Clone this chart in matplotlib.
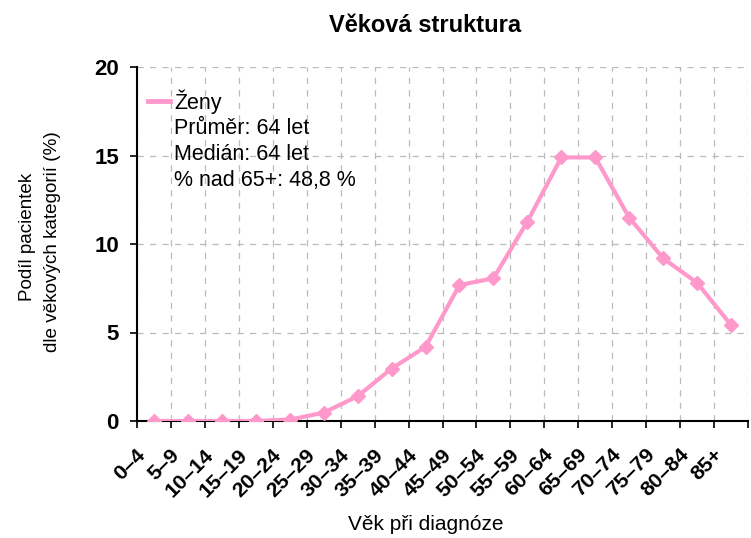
import matplotlib
matplotlib.use("Agg")
import matplotlib.pyplot as plt
from matplotlib.lines import Line2D
from matplotlib.transforms import ScaledTranslation
import numpy as np

plt.rcParams['font.family'] = ['Liberation Sans', 'DejaVu Sans']

categories = ["0–4", "5–9", "10–14", "15–19", "20–24", "25–29", "30–34", "35–39",
              "40–44", "45–49", "50–54", "55–59", "60–64", "65–69", "70–74",
              "75–79", "80–84", "85+"]
values = [0, 0, 0, 0, 0.08, 0.47, 1.4, 2.96, 4.19, 7.68, 8.06, 11.26, 14.89, 14.89,
          11.49, 9.19, 7.81, 5.42]
yticks = [0, 5, 10, 15, 20]
legend_lines = ["Ženy", "Průměr: 64 let", "Medián: 64 let", "% nad 65+: 48,8 %"]

pink = "#FF99CC"

fig = plt.figure(figsize=(7.51, 5.38), dpi=100)
ax = fig.add_axes([137/751, 1-421/538, (748-137)/751, (421-67)/538])

x = np.arange(len(categories))
ax.plot(x, values, color=pink, lw=3, marker="D", ms=7, mec=pink, mfc=pink, zorder=3)

ax.set_xlim(-0.5, len(categories) - 0.5)
ax.set_ylim(0, 20)
ax.set_yticks(yticks)
ax.set_yticklabels([str(v) for v in yticks], fontweight="bold", fontsize=16)

# category ticks between categories
bounds = np.arange(len(categories) + 1) - 0.5
ax.set_xticks(bounds)
ax.set_xticklabels([])
ax.tick_params(axis="x", which="major", length=5, width=1.2, direction="out")
ax.tick_params(axis="y", length=5, width=1.2, direction="out", pad=8)

# rotated category labels
off = ScaledTranslation(-18/100, -24/100, fig.dpi_scale_trans)
tr = ax.get_xaxis_transform() + off
for xi, cat in zip(x, categories):
    ax.text(xi, 0, cat, transform=tr, rotation=45, ha="right", va="top",
            rotation_mode="anchor", fontweight="bold", fontsize=15.3, clip_on=False)

ax.grid(True, which="major", axis="both", color="#BBBBBB", linestyle=(0, (5, 5)), lw=0.9)
ax.set_axisbelow(True)
for s in ["top", "right"]:
    ax.spines[s].set_visible(False)
for s in ["left", "bottom"]:
    ax.spines[s].set_linewidth(1.5)

handles = [Line2D([], [], color=pink, lw=3.5)] + [Line2D([], [], color="none") for _ in legend_lines[1:]]
leg = ax.legend(handles, legend_lines, loc="upper left", bbox_to_anchor=(-0.006, 0.98),
                frameon=False, fontsize=15.5, handlelength=1.0, handletextpad=0.2,
                labelspacing=0.22, borderaxespad=0.3)

fig.text(425/751, 1-25/538, "Věková struktura", ha="center", va="center",
         fontsize=17, fontweight="bold")
fig.text(27/751, 1-237/538, "Podíl pacientek", rotation=90, ha="center", va="center", fontsize=13.6)
fig.text(53/751, 1-242/538, "dle věkových kategorií (%)", rotation=90, ha="center", va="center", fontsize=13.6)
fig.text(426/751, 1-524/538, "Věk při diagnóze", ha="center", va="center", fontsize=15)

fig.savefig("out.png", dpi=100)
